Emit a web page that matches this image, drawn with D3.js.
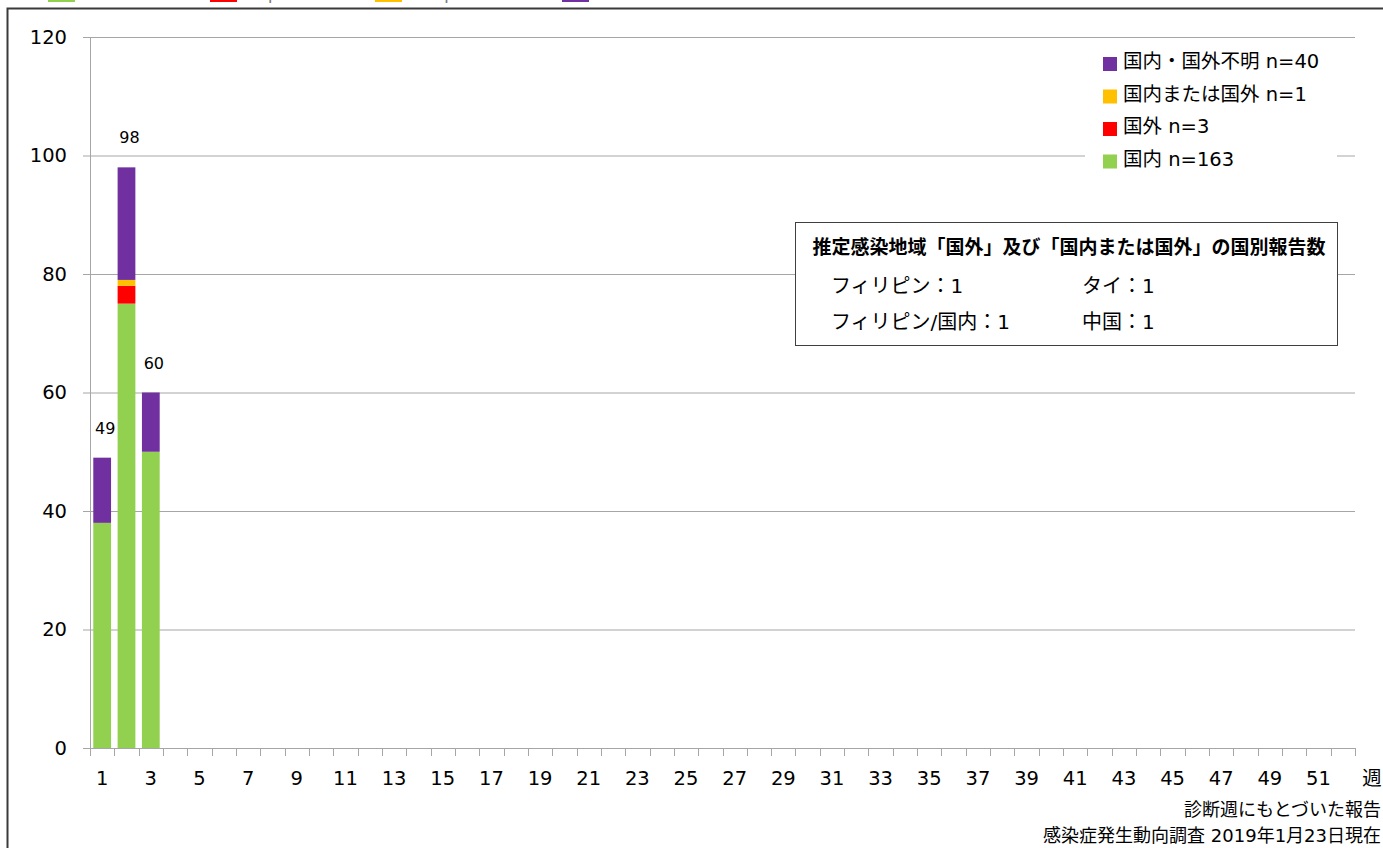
<!DOCTYPE html>
<html>
<head>
<meta charset="utf-8">
<script src="https://d3js.org/d3.v7.min.js"></script>
<style>
  body { margin: 0; background: #fff; }
  text { font-family: 'DejaVu Sans', 'Noto Sans CJK JP', sans-serif; fill: #000; }
  .grid line { stroke: #a6a6a6; stroke-width: 1px; }
  .tick-lbl { font-size: 19.5px; }
</style>
</head>
<body>
<svg id="chart" width="1383" height="848"></svg>
<script>
'use strict';

// weeks 1..52 (diagnosis week)
var weeks = d3.range(1, 53);
var seriesKeys = ['domestic', 'imported', 'either', 'unknown'];
var domestic = [38, 75, 50];
var imported = [0, 3, 0];
var either   = [0, 1, 0];
var unknown  = [11, 19, 10];
var colors = ['#92d050', '#ff0000', '#ffc000', '#7030a0'];
var legendLabels = ['国内 n=163', '国外 n=3', '国内または国外 n=1', '国内・国外不明 n=40'];
var topLegendLabels = ['Domestic', 'Imported', 'Unspecified', 'Unknown'];
var yTicks = [0, 20, 40, 60, 80, 100, 120];
var xTickLabels = d3.range(1, 53, 2);
var boxTitle = '推定感染地域「国外」及び「国内または国外」の国別報告数';
var boxRows = [['フィリピン：1', 'タイ：1'], ['フィリピン/国内：1', '中国：1']];
var notes = ['診断週にもとづいた報告', '感染症発生動向調査 2019年1月23日現在'];

var svg = d3.select('#chart');

// table for stacking
var table = weeks.map(function(w, i) {
  return { week: w, domestic: domestic[i] || 0, imported: imported[i] || 0,
           either: either[i] || 0, unknown: unknown[i] || 0 };
});
var stacked = d3.stack().keys(seriesKeys)(table);

var x = d3.scaleBand().domain(weeks).range([90, 1355])
  .paddingInner(0.27).paddingOuter(0.135);
var y = d3.scaleLinear().domain([0, 120]).range([748, 37]);

// outer frame
svg.append('rect').attr('x', 7.5).attr('y', 8.5).attr('width', 1420).attr('height', 900)
  .attr('fill', '#fff').attr('stroke', '#3a3a3a').attr('stroke-width', 2);

// top legend, mostly above the page edge (as in the original)
var tl = svg.append('g');
var tlX = [48, 210, 375, 562];
topLegendLabels.forEach(function(lbl, i) {
  tl.append('rect').attr('x', tlX[i]).attr('y', -10).attr('width', 27).attr('height', 12)
    .attr('fill', colors[i]);
  tl.append('text').attr('x', tlX[i] + 35).attr('y', -1)
    .style('fill', '#7f7f7f').style('font-size', '18px').text(lbl);
});

// gridlines
var grid = svg.append('g').attr('class', 'grid');
grid.selectAll('line.h').data(yTicks).enter().append('line')
  .attr('x1', 83).attr('x2', 1355)
  .attr('y1', function(d) { return y(d) + 0.5; })
  .attr('y2', function(d) { return y(d) + 0.5; });
grid.append('line').attr('x1', 90.5).attr('x2', 90.5).attr('y1', y(120)).attr('y2', y(0));

// x ticks on band boundaries
var bounds = d3.range(0, weeks.length + 1).map(function(i) { return x.range()[0] + i * x.step(); });
grid.selectAll('line.xt').data(bounds).enter().append('line')
  .attr('x1', function(d) { return Math.round(d) + 0.5; })
  .attr('x2', function(d) { return Math.round(d) + 0.5; })
  .attr('y1', y(0)).attr('y2', y(0) + 8);

// y labels
svg.selectAll('text.yl').data(yTicks).enter().append('text')
  .attr('class', 'tick-lbl').attr('text-anchor', 'end')
  .attr('x', 67).attr('y', function(d) { return y(d); }).attr('dy', '0.35em')
  .text(function(d) { return d; });

// x labels
svg.selectAll('text.xl').data(xTickLabels).enter().append('text')
  .attr('class', 'tick-lbl').attr('text-anchor', 'middle')
  .attr('x', function(d) { return x(d) + x.bandwidth() / 2; })
  .attr('y', 785).text(function(d) { return d; });
svg.append('text').attr('class', 'tick-lbl').attr('x', 1372).attr('y', 785)
  .attr('text-anchor', 'middle').style('font-size', '19.5px').text('週');

// bars
svg.selectAll('g.layer').data(stacked).enter().append('g')
  .attr('fill', function(d, i) { return colors[i]; })
  .selectAll('rect').data(function(d) { return d.filter(function(p) { return p[1] > p[0]; }); })
  .enter().append('rect')
  .attr('x', function(d) { return x(d.data.week); })
  .attr('width', x.bandwidth())
  .attr('y', function(d) { return y(d[1]); })
  .attr('height', function(d) { return y(d[0]) - y(d[1]); });

// totals
var totals = stacked[stacked.length - 1].filter(function(d) { return d[1] > 0; });
svg.selectAll('text.tot').data(totals).enter().append('text')
  .attr('text-anchor', 'middle').style('font-size', '16px')
  .attr('x', function(d) { return x(d.data.week) + x.bandwidth() / 2 + 3; })
  .attr('y', function(d) { return y(d[1]) - 24; })
  .text(function(d) { return d[1]; });

// right legend
var lg = svg.append('g');
lg.append('rect').attr('x', 1085).attr('y', 42).attr('width', 252).attr('height', 135).attr('fill', '#fff');
var lgOrder = [3, 2, 1, 0];
lgOrder.forEach(function(k, r) {
  var by = 68 + r * 32.5;
  lg.append('rect').attr('x', 1103).attr('y', by - 11).attr('width', 14).attr('height', 14)
    .attr('fill', colors[k]);
  lg.append('text').attr('x', 1123).attr('y', by).style('font-size', '19.5px').text(legendLabels[k]);
});

// info box
var bx = svg.append('g');
bx.append('rect').attr('x', 795.5).attr('y', 222.5).attr('width', 542).attr('height', 123)
  .attr('fill', '#fff').attr('stroke', '#404040').attr('stroke-width', 1);
bx.append('text').attr('x', 1069).attr('y', 254).attr('text-anchor', 'middle')
  .style('font-size', '19px').style('font-weight', 'bold').text(boxTitle);
boxRows.forEach(function(row, r) {
  bx.append('text').attr('x', 831).attr('y', 293 + r * 36).style('font-size', '20px').text(row[0]);
  bx.append('text').attr('x', 1082).attr('y', 293 + r * 36).style('font-size', '20px').text(row[1]);
});

// notes
notes.forEach(function(n, i) {
  svg.append('text').attr('x', 1381).attr('y', 816 + i * 26).attr('text-anchor', 'end')
    .style('font-size', '18px').text(n);
});
</script>
</body>
</html>
